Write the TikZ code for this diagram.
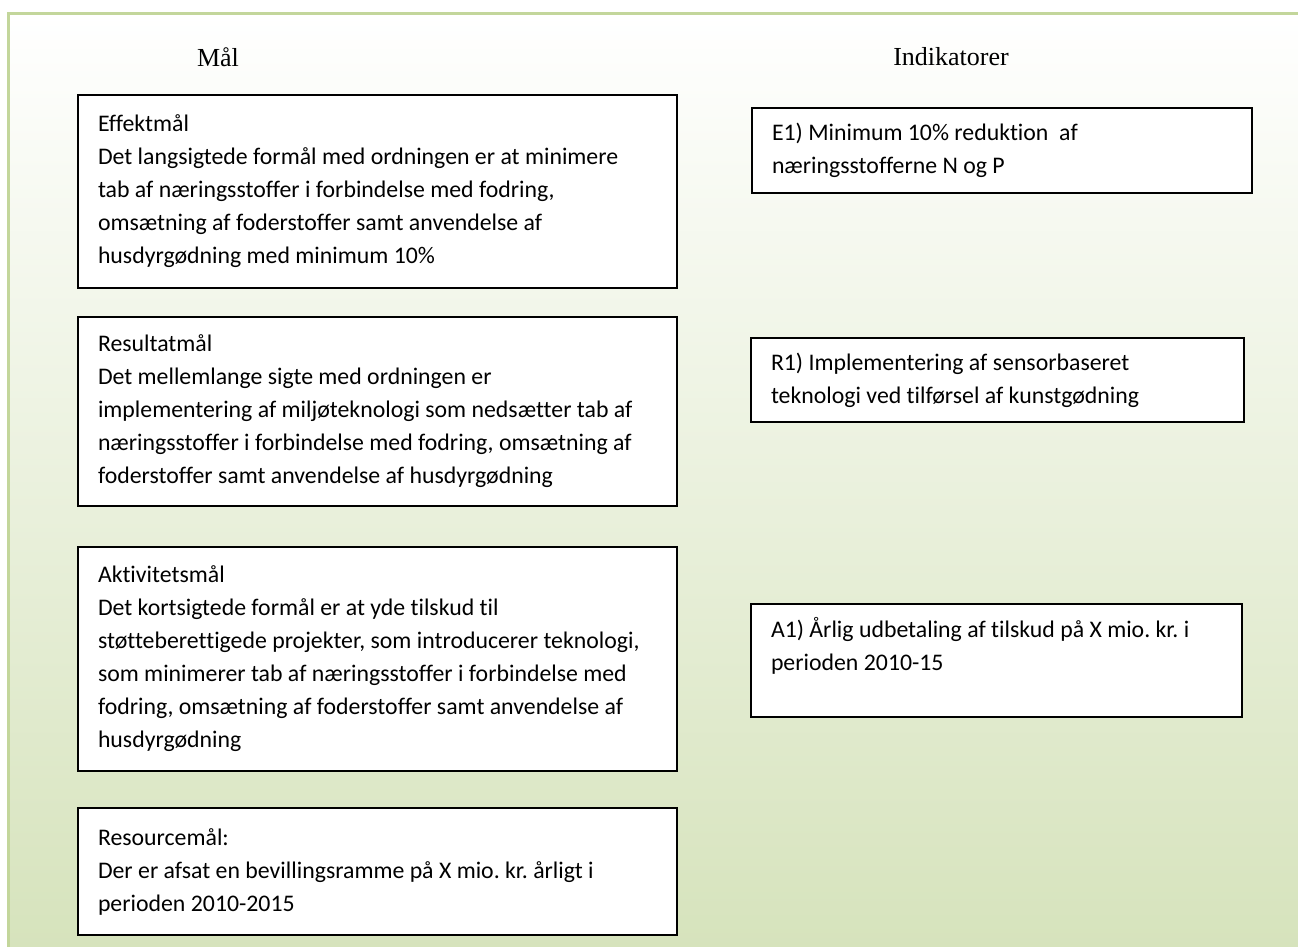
\documentclass[tikz,border=0pt]{standalone}
\usepackage{fontspec}
\setmainfont{Carlito}[Ligatures=CommonOff]
\newfontfamily\headfont{Liberation Serif}
\usepackage{xcolor}
\usepackage{tikz}
\definecolor{bggreen}{RGB}{214,227,188}
\definecolor{framegreen}{RGB}{195,214,155}
\frenchspacing

\begin{document}
\begin{tikzpicture}[x=0.5pt, y=-0.5pt, every node/.style={inner sep=0pt, font=\fontsize{11.9}{16.5}\selectfont}, head/.style={font=\headfont\fontsize{13}{15}\selectfont}, box/.style={draw, line width=1pt, fill=white, anchor=north west, align=flush left, inner xsep=10pt, text width=#1}]
\useasboundingbox (0,0) rectangle (1298,947);
\shade[top color=white, bottom color=bggreen] (8,14) rectangle (1300,949);
\draw[framegreen, line width=1.5pt] (1300,14) -- (8,14) -- (8,949);
\node[head] (mal) at (218,57) {Mål};
\node[head] (indikatorer) at (951,57) {Indikatorer};
\node[box=279.5pt, minimum height=96.5pt] (effekt) at (77,94) {Effektmål\\Det langsigtede formål med ordningen er at minimere\\tab af næringsstoffer i forbindelse med fodring,\\omsætning af foderstoffer samt anvendelse af\\husdyrgødning med minimum 10\%};
\node[box=279.5pt, minimum height=94.5pt] (resultat) at (77,316) {Resultatmål\\Det mellemlange sigte med ordningen er\\implementering af miljøteknologi som nedsætter tab af\\næringsstoffer i forbindelse med fodring, omsætning af\\foderstoffer samt anvendelse af husdyrgødning};
\node[box=279.5pt, minimum height=112pt] (aktivitet) at (77,546) {Aktivitetsmål\\Det kortsigtede formål er at yde tilskud til\\støtteberettigede projekter, som introducerer teknologi,\\som minimerer tab af næringsstoffer i forbindelse med\\fodring, omsætning af foderstoffer samt anvendelse af\\husdyrgødning};
\node[box=279.5pt, minimum height=63.5pt] (resource) at (77,807) {Resourcemål:\\Der er afsat en bevillingsramme på X mio. kr. årligt i\\perioden 2010-2015};
\node[box=230pt, minimum height=42.5pt] (e1) at (751,107) {E1) Minimum 10\% reduktion\ \ af\\næringsstofferne N og P};
\node[box=226.5pt, minimum height=42pt] (r1) at (750,337) {R1) Implementering af sensorbaseret\\teknologi ved tilførsel af kunstgødning};
\node[box=225.5pt, minimum height=56.5pt] (a1) at (750,603) {A1) Årlig udbetaling af tilskud på X mio. kr. i\\perioden 2010-15\\\mbox{}};
\end{tikzpicture}
\end{document}
